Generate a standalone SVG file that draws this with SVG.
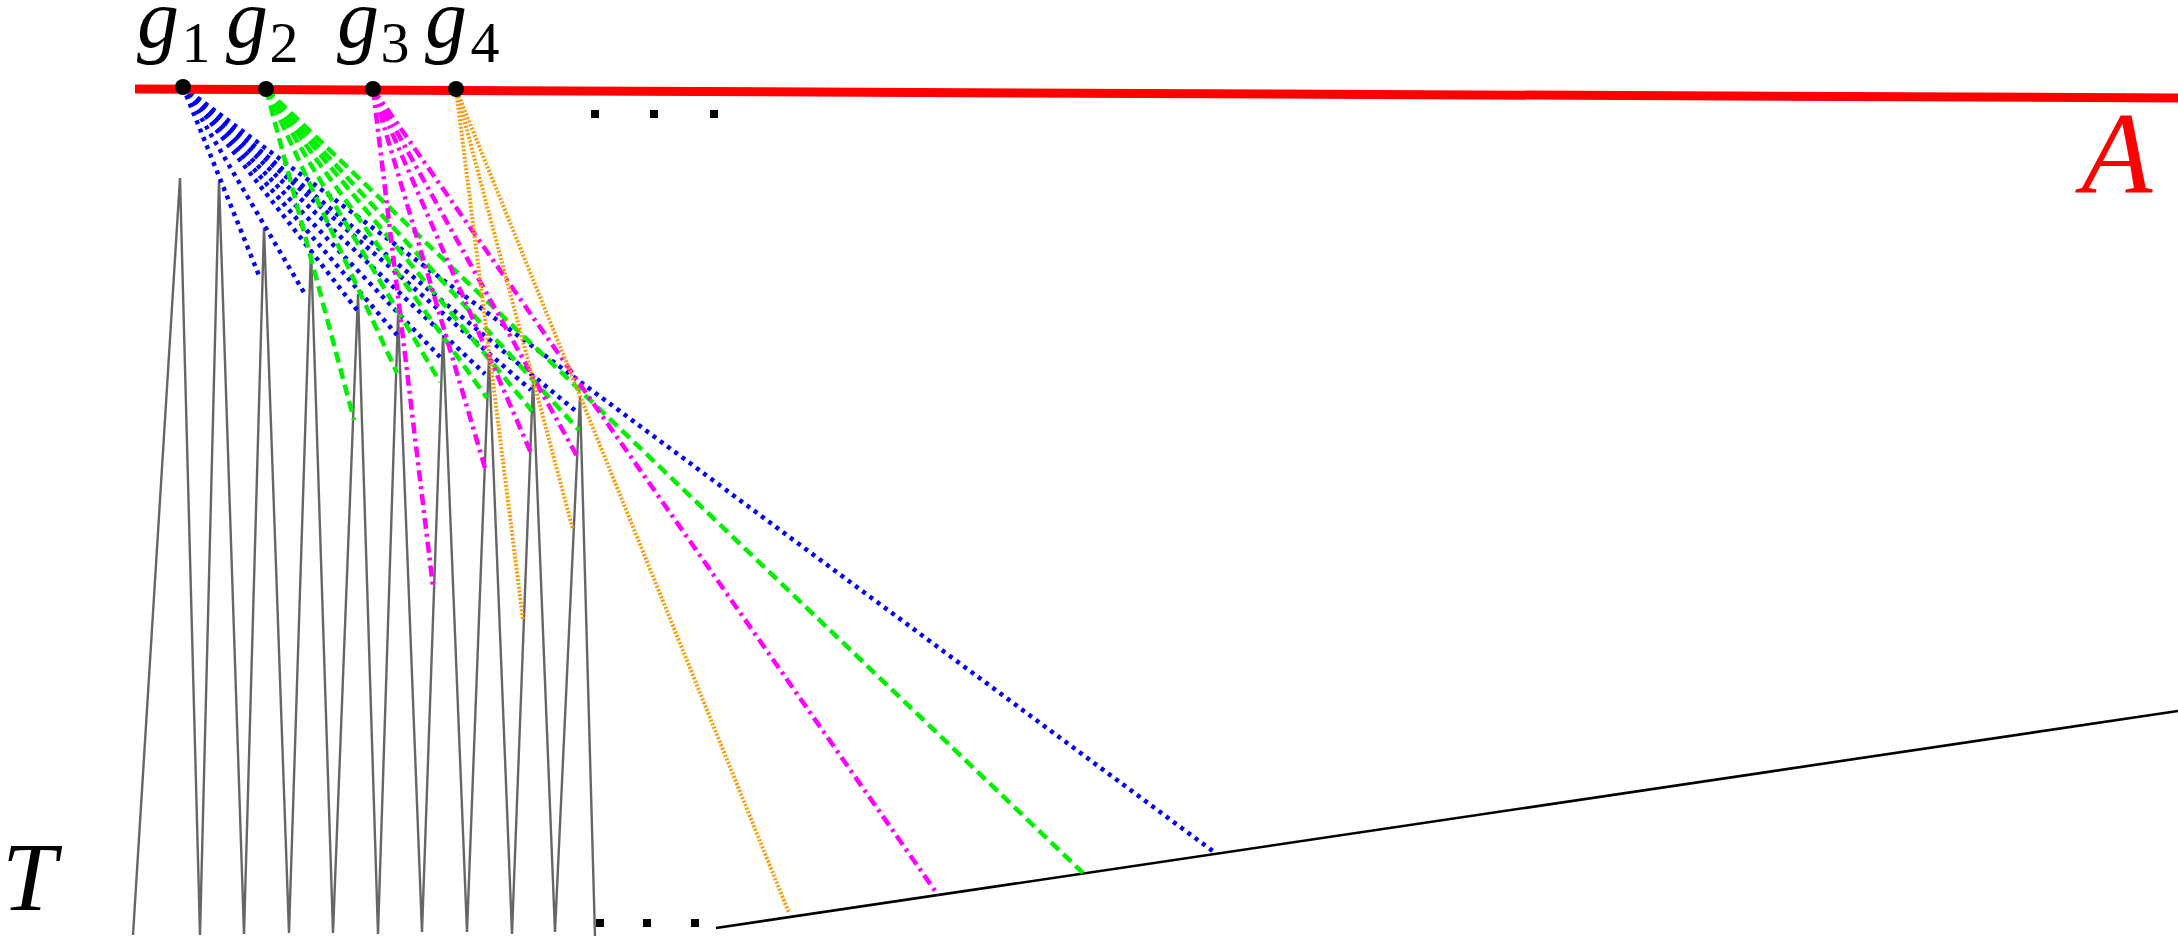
<svg xmlns="http://www.w3.org/2000/svg" width="2178" height="936" viewBox="0 0 2178 936">
<style>
.ser{font-family:"Liberation Serif","DejaVu Serif",serif;}
.gi{font-style:italic;font-size:84px;fill:#000;text-anchor:middle;}
.sub{font-size:58px;fill:#000;text-anchor:middle;}
.b{stroke:#0000ff;stroke-width:4.5;stroke-dasharray:4 5;fill:none;}
.g{stroke:#00f000;stroke-width:4.5;stroke-dasharray:11 6;fill:none;}
.m{stroke:#ff00ff;stroke-width:4.5;stroke-dasharray:11 5 3 5;fill:none;}
.o{stroke:#ff9900;stroke-width:4;stroke-dasharray:2 1.8;fill:none;}
.pt{fill:#000;}
.sq{fill:#000;}
</style>
<rect width="2178" height="936" fill="#fff"/>
<g id="terrain">
<polyline points="133,935 180,178 200,935 219,181 244,934 264,228 289,933 311,249 333,933 358,294 378,934 398,315 422,932 443,335 467,932 489,357 512,934 533,381 555,932 580,396 595,936" fill="none" stroke="#666" stroke-width="2.4" stroke-linejoin="miter"/>
<line x1="716" y1="928" x2="2178" y2="711" stroke="#000" stroke-width="2.6"/>
<rect class="sq" x="596" y="919" width="8" height="8"/>
<rect class="sq" x="643" y="919" width="8" height="8"/>
<rect class="sq" x="691" y="919" width="8" height="8"/>
<text class="ser" x="2" y="910" font-style="italic" font-size="98">T</text>
</g>
<g id="connectors">
<g id="rays-g1">
<line class="b" x1="183" y1="87" x2="260" y2="278"/>
<line class="b" x1="183" y1="87" x2="306" y2="296"/>
<line class="b" x1="183" y1="87" x2="357" y2="310"/>
<line class="b" x1="183" y1="87" x2="397" y2="335"/>
<line class="b" x1="183" y1="87" x2="440" y2="357"/>
<line class="b" x1="183" y1="87" x2="485" y2="374"/>
<line class="b" x1="183" y1="87" x2="531" y2="390"/>
<line class="b" x1="183" y1="87" x2="577" y2="412"/>
<line class="b" x1="183" y1="87" x2="1214" y2="852"/>
</g>
<g id="rays-g2">
<line class="g" x1="266" y1="89" x2="354" y2="420"/>
<line class="g" x1="266" y1="89" x2="397" y2="373"/>
<line class="g" x1="266" y1="89" x2="440" y2="382"/>
<line class="g" x1="266" y1="89" x2="487" y2="398"/>
<line class="g" x1="266" y1="89" x2="532" y2="411"/>
<line class="g" x1="266" y1="89" x2="579" y2="430"/>
<line class="g" x1="266" y1="89" x2="1083" y2="873"/>
</g>
<g id="rays-g3">
<line class="m" x1="373" y1="89" x2="433" y2="587"/>
<line class="m" x1="373" y1="89" x2="485" y2="468"/>
<line class="m" x1="373" y1="89" x2="531" y2="453"/>
<line class="m" x1="373" y1="89" x2="577" y2="456"/>
<line class="m" x1="373" y1="89" x2="938" y2="895"/>
</g>
<g id="rays-g4">
<line class="o" x1="456" y1="89" x2="523" y2="620"/>
<line class="o" x1="456" y1="89" x2="573" y2="530"/>
<line class="o" x1="456" y1="89" x2="789" y2="913"/>
</g>
</g>
<g id="A">
<line x1="135" y1="89" x2="2178" y2="98" stroke="#ff0000" stroke-width="9"/>
<rect class="sq" x="591" y="110" width="8" height="8"/>
<rect class="sq" x="650" y="110" width="8" height="8"/>
<rect class="sq" x="710" y="110" width="8" height="8"/>
<text class="ser" x="2117" y="193" font-style="italic" font-size="116" fill="#ff0000" text-anchor="middle">A</text>
</g>
<g id="g1"><circle class="pt" cx="183" cy="87" r="8"/><text class="ser gi" x="158" y="47">g</text><text class="ser sub" x="196" y="62">1</text></g>
<g id="g2"><circle class="pt" cx="266" cy="89" r="8"/><text class="ser gi" x="247" y="47">g</text><text class="ser sub" x="284" y="62">2</text></g>
<g id="g3"><circle class="pt" cx="373" cy="89" r="8"/><text class="ser gi" x="358" y="47">g</text><text class="ser sub" x="395" y="62">3</text></g>
<g id="g4"><circle class="pt" cx="456" cy="89" r="8"/><text class="ser gi" x="446" y="47">g</text><text class="ser sub" x="485" y="62">4</text></g>
</svg>
